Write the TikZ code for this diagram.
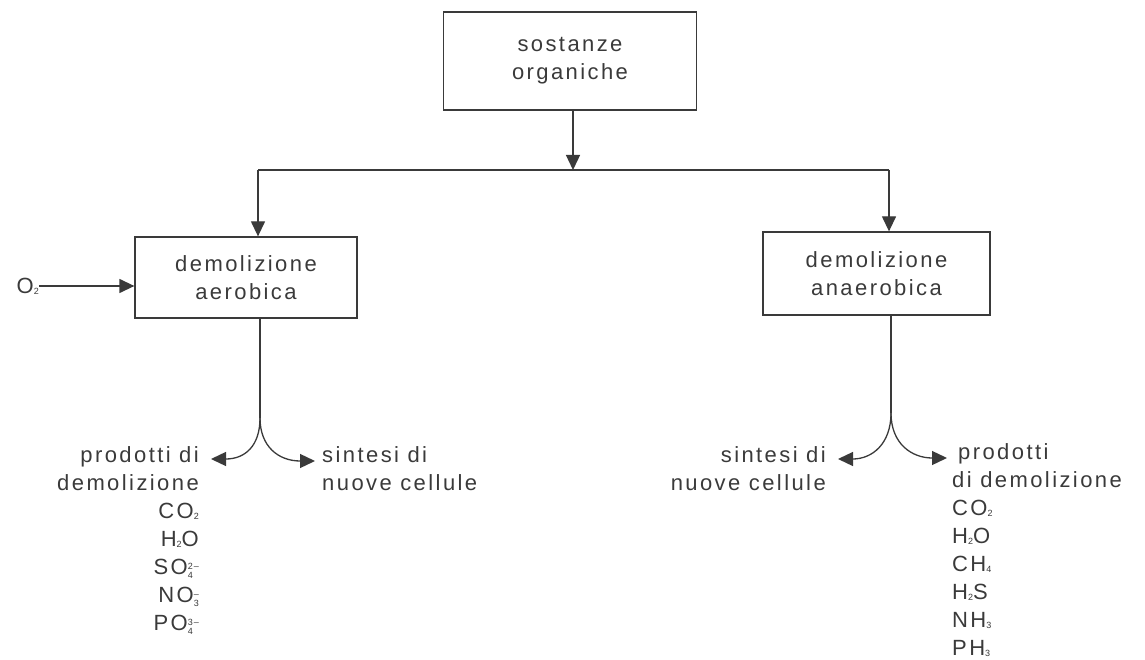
\documentclass[tikz,border=0pt]{standalone}
\usepackage{fontspec}
\setmainfont{Liberation Sans}[LetterSpace=11]
\usetikzlibrary{arrows.meta}
\definecolor{ink}{HTML}{3A3A3A}
\newcommand\sbx[1]{\raisebox{-0.05em}{\fontsize{9}{9}\selectfont #1}}
\newcommand\chg[2]{\raisebox{-0.2em}{\fontsize{9}{8}\selectfont\shortstack[l]{#1\\#2}}}
\tikzset{
  box/.style={draw=ink, line width=1.3pt, align=center, inner sep=0pt, font=\fontsize{22}{28}\selectfont, text=ink},
  lbl/.style={inner sep=0pt, font=\fontsize{22}{28}\selectfont, text=ink},
  conn/.style={draw=ink, line width=1.3pt},
  arr/.style={conn, -{Triangle[length=15pt,width=14pt]}},
}
\begin{document}
\begin{tikzpicture}[x=1pt,y=-1pt]
\useasboundingbox (0,0) rectangle (1145,660);
\node[box, minimum width=253pt, minimum height=98pt] (top) at (570,61) {sostanze\\organiche};
\node[box, minimum width=222pt, minimum height=81pt] (aer) at (246,277.5) {demolizione\\aerobica};
\node[box, minimum width=227pt, minimum height=83pt] (ana) at (876.5,273.5) {demolizione\\anaerobica};
\coordinate (j) at (573,170);
\coordinate (jl) at (258,170);
\coordinate (jr) at (889,170);
\draw[arr] (top.south -| j) -- (j);
\draw[conn] (jl) -- (jr);
\draw[arr] (jl) -- (jl |- aer.north);
\draw[arr] (jr) -- (jr |- ana.north);
\node[lbl, anchor=east] (o2) at (39,286) {O\sbx{2}};
\draw[arr] (o2) -- (o2 -| aer.west);
% left split
\coordinate (sl) at (260,418);
\draw[conn] (260,318) -- (sl);
\node[lbl, anchor=north east, align=right] (pl) at (199,446) {prodotti di\\demolizione\\CO\sbx{2}\\H\sbx{2}O\\SO\chg{2–}{4}\\NO\chg{–}{3}\\PO\chg{3–}{4}};
\node[lbl, anchor=north west, align=left] (sl1) at (322,446) {sintesi di\\nuove cellule};
\coordinate (tl1) at (211,459);
\coordinate (tl2) at (315,461);
\draw[arr] (sl) .. controls (260,446) and (245,459) .. (tl1);
\draw[arr] (sl) .. controls (260,446) and (278,461) .. (tl2);
% right split
\coordinate (sr) at (891,413);
\draw[conn] (ana.south -| sr) -- (sr);
\node[lbl, anchor=north east, align=right] (sl2) at (826,446) {sintesi di\\nuove cellule};
\node[lbl, anchor=north west, align=left] (pr) at (952,443) {\hspace{6pt}prodotti\\di demolizione\\CO\sbx{2}\\H\sbx{2}O\\CH\sbx{4}\\H\sbx{2}S\\NH\sbx{3}\\PH\sbx{3}};
\coordinate (tr1) at (838,459);
\coordinate (tr2) at (947,458);
\draw[arr] (sr) .. controls (891,444) and (872,459) .. (tr1);
\draw[arr] (sr) .. controls (891,444) and (912,458) .. (tr2);
\end{tikzpicture}
\end{document}
